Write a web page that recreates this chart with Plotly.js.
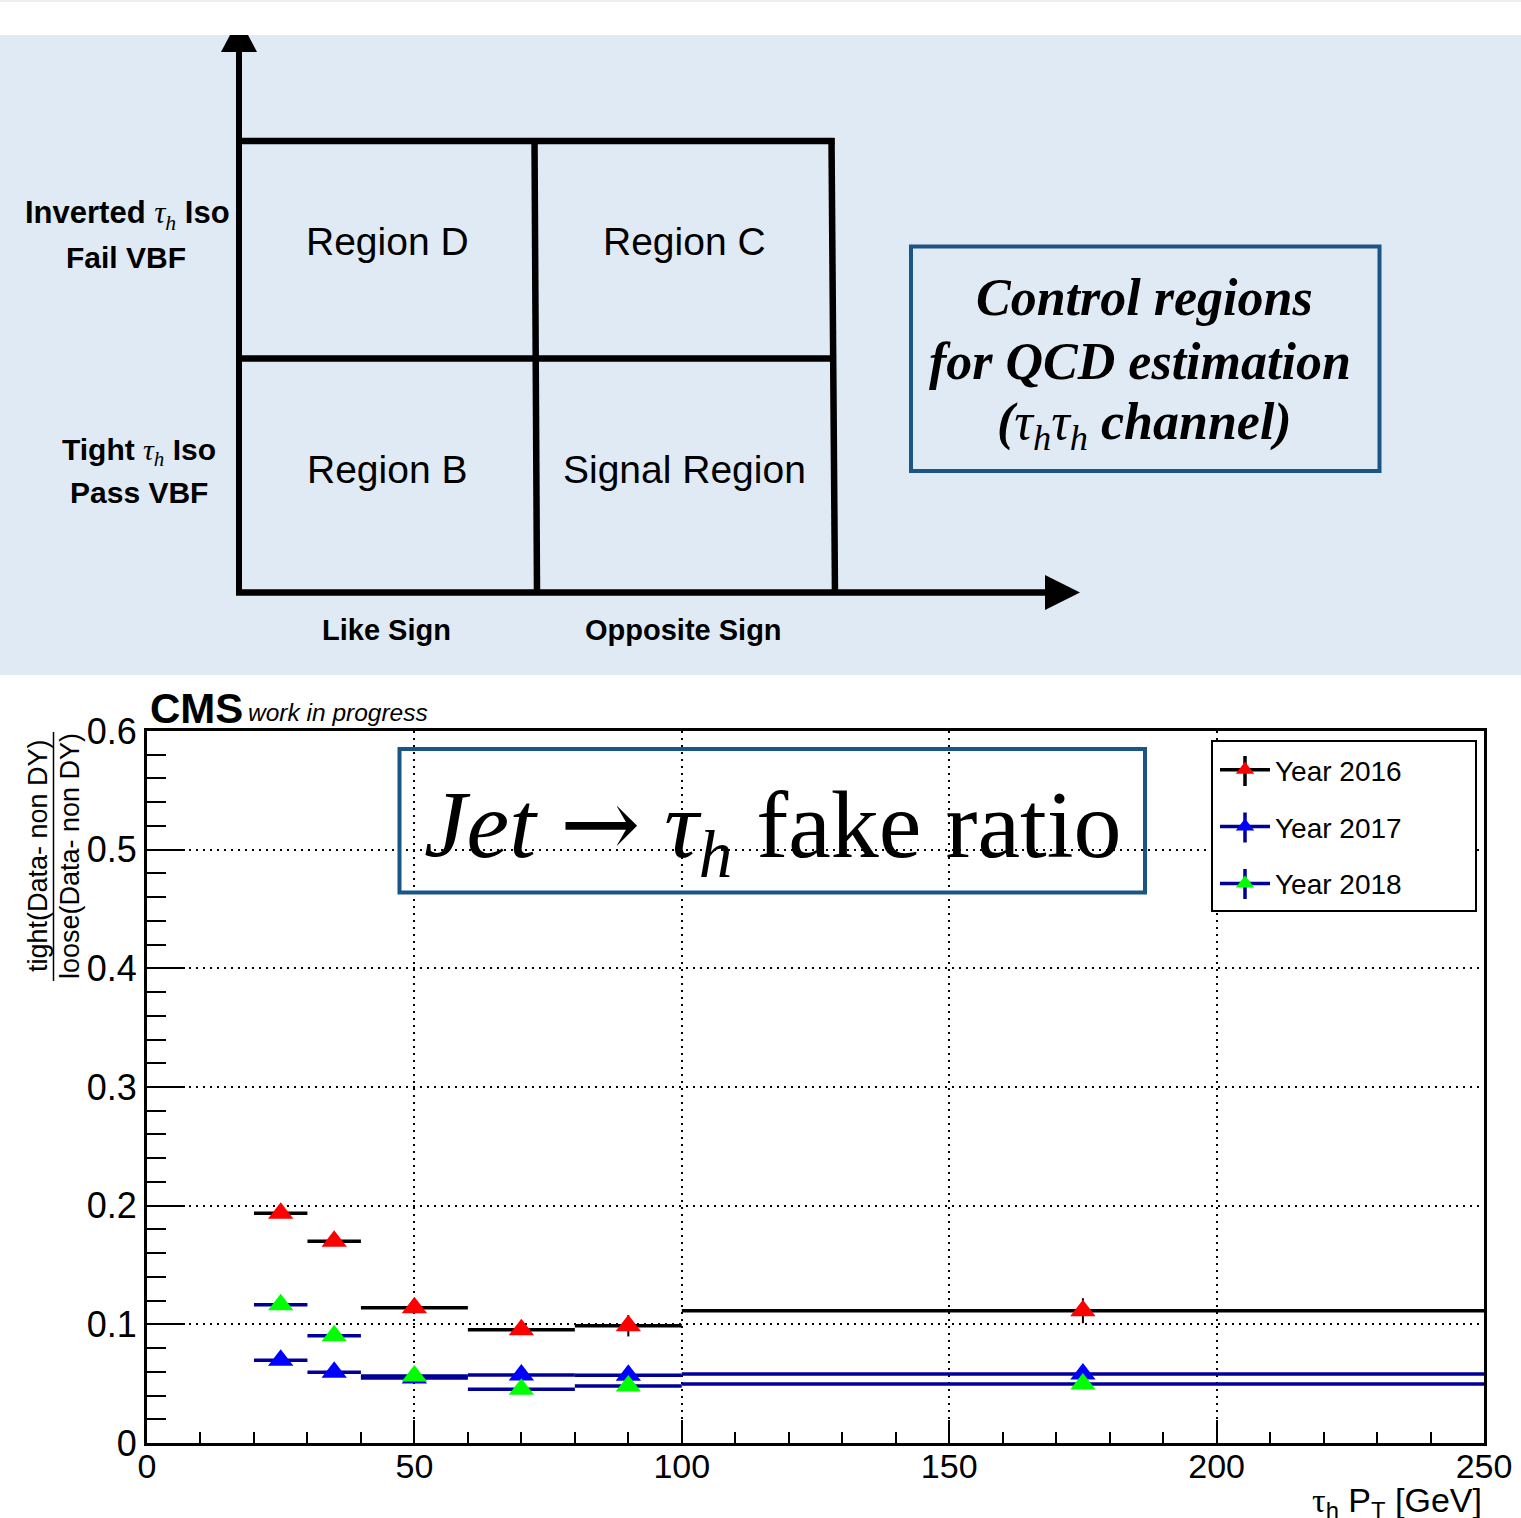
<!DOCTYPE html>
<html><head><meta charset="utf-8">
<script src="https://cdn.plot.ly/plotly-3.0.1.min.js"></script>
<style>html,body{margin:0;padding:0;background:#fff;}#plot{width:1521px;height:1518px;}</style>
</head><body><div id="plot"></div>
<script>
// ---- data ----
const binLow  = [20, 30, 40, 60, 80, 100];
const binHigh = [30, 40, 60, 80, 100, 250];
const seriesNames = ["Year 2016", "Year 2017", "Year 2018"];
const y2016 = [0.1936, 0.170, 0.114, 0.0955, 0.0988, 0.1115];
const y2017 = [0.0697, 0.0596, 0.0548, 0.0573, 0.0570, 0.0581];
const y2018 = [0.1165, 0.0904, 0.0565, 0.0452, 0.0480, 0.0497];
const e2016 = [0.002, 0.002, 0.003, 0.003, 0.009, 0.0105];
const e2017 = [0.002, 0.002, 0.002, 0.002, 0.002, 0.003];
const e2018 = [0.002, 0.002, 0.002, 0.002, 0.002, 0.003];
const lineColors = ["#000000", "#000099", "#000099"];
const markerColors = ["#ff0000", "#0000ff", "#00ff00"];
const xTitle = 'τ<sub>h</sub> P<sub>T</sub> [GeV]';

// ---- layout helpers: page pixels -> paper coords ----
const L = 147, R = 1484, T = 731, B = 1443;
const PX = x => (x - L) / (R - L);
const PY = y => (B - y) / (B - T);

const xc = binLow.map((lo, i) => (lo + binHigh[i]) / 2);
const xe = binLow.map((lo, i) => (binHigh[i] - lo) / 2);
const ys = [y2016, y2017, y2018];
const es = [e2016, e2017, e2018];

const SANS = 'Liberation Sans, Arial, Helvetica, sans-serif';
const SERIF = 'Liberation Serif, Times New Roman, serif';

const traces = [];
ys.forEach((yv, k) => {
  traces.push({
    x: xc, y: yv, type: 'scatter', mode: 'markers', showlegend: false,
    error_x: {type: 'data', array: xe, visible: true, width: 0, thickness: 3.5, color: lineColors[k]},
    error_y: {type: 'data', array: es[k], visible: true, width: 0, thickness: 2, color: lineColors[k]},
    marker: {symbol: 'triangle-up', size: 22, color: markerColors[k], line: {width: 0}},
    hoverinfo: 'x+y'
  });
});
ys.forEach((yv, k) => {
  traces.push({
    x: [null], y: [null], type: 'scatter', mode: 'lines+markers', name: seriesNames[k],
    legendgroup: 'g' + k, showlegend: true,
    line: {color: lineColors[k], width: 3.5},
    marker: {symbol: 'triangle-up', size: 22, color: markerColors[k], line: {width: 0}}
  });
});

const BLUEBOX = '#1b5585';
const shapes = [];
const ann = [];
function line(x0, y0, x1, y1, w, color) {
  shapes.push({type: 'line', xref: 'paper', yref: 'paper', x0: PX(x0), y0: PY(y0), x1: PX(x1), y1: PY(y1),
    line: {color: color || 'black', width: w}});
}
function rect(x0, y0, x1, y1, lineW, lineC, fill, layer) {
  shapes.push({type: 'rect', xref: 'paper', yref: 'paper', x0: PX(x0), y0: PY(y0), x1: PX(x1), y1: PY(y1),
    line: {color: lineC || 'rgba(0,0,0,0)', width: lineW}, fillcolor: fill || 'rgba(0,0,0,0)', layer: layer || 'above'});
}
function poly(pts, fill) {
  const d = pts.map((p, i) => (i ? 'L' : 'M') + PX(p[0]) + ',' + PY(p[1])).join(' ') + ' Z';
  shapes.push({type: 'path', xref: 'paper', yref: 'paper', path: d, fillcolor: fill, line: {width: 0}});
}
function text(str, x, y, size, opts) {
  opts = opts || {};
  ann.push(Object.assign({text: str, xref: 'paper', yref: 'paper', x: PX(x), y: PY(y), showarrow: false,
    xanchor: 'center', yanchor: 'middle',
    font: {family: opts.family || SANS, size: size, color: 'black', weight: opts.weight || 'normal', style: opts.style || 'normal'}},
    opts.extra || {}));
}

// top diagram background
rect(0, 35, 1521, 675, 0, null, 'rgb(224,234,244)', 'below');
rect(0, 0, 1521, 2, 0, null, '#eeeeee', 'below');
// arrows
line(239, 595, 239, 50, 6);
poly([[221, 52], [257, 52], [248, 35], [230, 35]], 'black');
line(236, 592.5, 1047, 592.5, 6.5);
poly([[1045, 575], [1045, 610], [1080, 592.5]], 'black');
// grid of regions
line(236, 141, 834.5, 141, 6.5);
line(831.5, 138, 835, 595, 6.5);
line(239, 358.5, 833, 358.5, 6.5);
line(534.5, 138, 537, 592, 6.5);
// region labels
text('Region D', 387, 241, 39);
text('Region C', 684, 241, 39);
text('Region B', 387, 469, 39);
text('Signal Region', 684, 469, 39);
const TAU = '<span style="font-family:Liberation Serif;font-style:italic;font-weight:normal">τ<sub>h</sub></span>';
text('Inverted ' + TAU + ' Iso', 127, 215, 31, {weight: 'bold'});
text('Fail VBF', 126, 257.5, 30, {weight: 'bold'});
text('Tight ' + TAU + ' Iso', 139, 452, 30, {weight: 'bold'});
text('Pass VBF', 139, 492, 30, {weight: 'bold'});
text('Like Sign', 386.5, 630, 29, {weight: 'bold'});
text('Opposite Sign', 683.5, 630, 29, {weight: 'bold'});
// control regions box
rect(911, 246.5, 1379.5, 471, 4, BLUEBOX);
text('Control regions', 1144, 297, 52, {family: SERIF, weight: 'bold', style: 'italic'});
text('for QCD estimation', 1140, 361, 52, {family: SERIF, weight: 'bold', style: 'italic'});
text('(<span style="font-weight:normal">τ<sub>h</sub>τ<sub>h</sub></span> channel)', 1144, 426, 52, {family: SERIF, weight: 'bold', style: 'italic'});

// plot decorations
rect(399.5, 749, 1145, 892.5, 4, BLUEBOX);
text('<i>Jet</i> <span style="font-family:DejaVu Serif">→</span> <i>τ<sub>h</sub></i> fake ratio', 772, 830, 96, {family: SERIF});
text('<b>CMS</b>', 148, 708, 42, {extra: {xanchor: 'left'}});
text('<i>work in progress</i>', 246, 712, 24.5, {extra: {xanchor: 'left'}});
// y title as fraction
text('tight(Data- non DY)', 38, 856, 27, {extra: {textangle: -90}});
text('loose(Data- non DY)', 70, 856, 27, {extra: {textangle: -90}});
line(53.5, 732, 53.5, 981, 1.5);
// x title
text(xTitle.replace('τ', '<span style="font-family:Liberation Serif">τ</span>'), 1484, 1502, 34, {extra: {xanchor: 'right'}});
// legend box and error-bar crosses of the legend glyphs
rect(1212, 741, 1476, 911, 2, 'black', 'white', 'above');
const legY = [771, 827.5, 884];
legY.forEach((yy, k) => line(1245, yy - 15, 1245, yy + 15, 3.5, lineColors[k]));

const layout = {
  width: 1521, height: 1518,
  margin: {l: L, r: 1521 - R, t: T, b: 1518 - B, pad: 0},
  paper_bgcolor: 'white', plot_bgcolor: 'white',
  font: {family: SANS, color: 'black'},
  xaxis: {range: [0, 250], dtick: 50, tick0: 0, ticks: 'inside', ticklen: 23, tickwidth: 2, tickcolor: 'black',
    showline: true, mirror: true, linewidth: 3, linecolor: 'black', zeroline: false,
    showgrid: true, gridcolor: 'black', gridwidth: 2, griddash: '2px,5px', ticklabelstandoff: -9,
    tickfont: {size: 34, family: SANS, color: 'black'},
    minor: {dtick: 10, ticks: 'inside', ticklen: 11, tickwidth: 2, tickcolor: 'black', showgrid: false}},
  yaxis: {range: [0, 0.6], dtick: 0.1, tick0: 0, ticks: 'inside', ticklen: 38, tickwidth: 2, tickcolor: 'black',
    showline: true, mirror: true, linewidth: 3, linecolor: 'black', zeroline: false,
    showgrid: true, gridcolor: 'black', gridwidth: 2, griddash: '2px,5px',
    tickfont: {size: 36, family: SANS, color: 'black'},
    minor: {dtick: 0.02, ticks: 'inside', ticklen: 19, tickwidth: 2, tickcolor: 'black', showgrid: false}},
  showlegend: true,
  legend: {x: PX(1215), y: PY(745), xanchor: 'left', yanchor: 'top', bgcolor: 'rgba(0,0,0,0)', borderwidth: 0,
    font: {size: 28, family: SANS, color: 'black'}, tracegroupgap: 17.5, itemwidth: 50},
  shapes: shapes,
  annotations: ann
};
Plotly.newPlot('plot', traces, layout, {displayModeBar: false, staticPlot: true});
</script></body></html>
